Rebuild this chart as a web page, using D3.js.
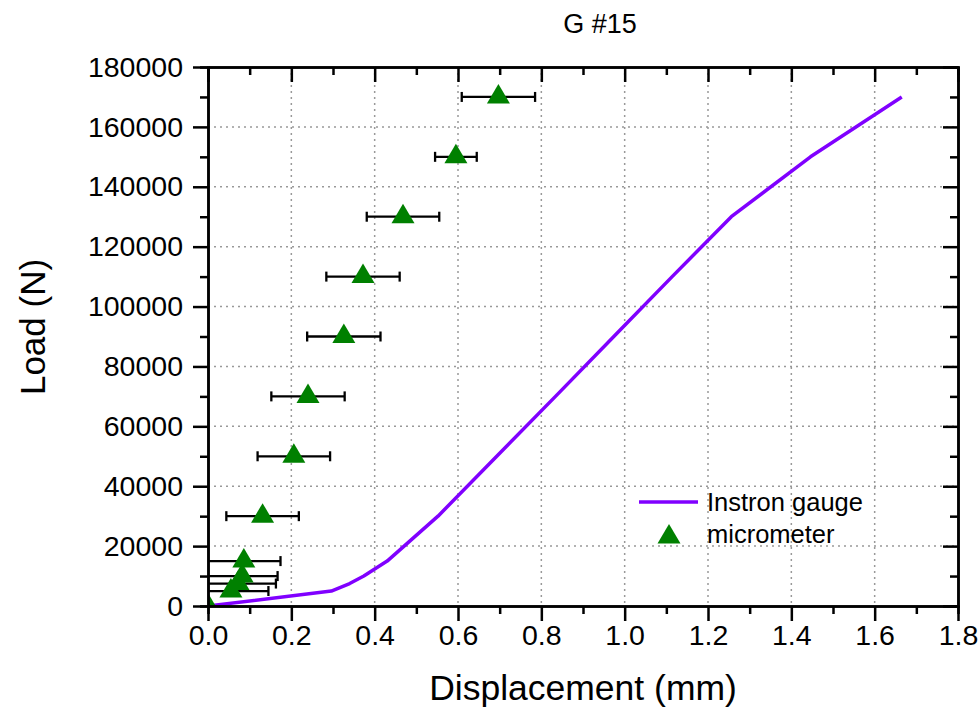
<!DOCTYPE html>
<html>
<head>
<meta charset="utf-8">
<script src="https://cdn.jsdelivr.net/npm/d3@7"></script>
<style>
	body { margin: 0; background: #fff; }
	text { font-family: "Liberation Sans", Arial, sans-serif; fill: #000; }
</style>
</head>
<body>
<div id="chart"></div>
<script>
// micrometer readings (load in N, displacement in mm, +/- error)
var microLoad = [0, 5000, 7500, 10000, 15000, 30000, 50000, 70000, 90000, 110000, 130000, 150000, 170000];
var microDisp = [0, 0.055, 0.072, 0.082, 0.086, 0.131, 0.206, 0.240, 0.326, 0.372, 0.468, 0.595, 0.697];
var microErr  = [0, 0.090, 0.091, 0.085, 0.088, 0.087, 0.087, 0.088, 0.088, 0.088, 0.087, 0.050, 0.088];

// Instron gauge curve
var gaugeLoad = [0, 5000, 7500, 10000, 15000, 30000, 50000, 70000, 90000, 110000, 130000, 150000, 170000];
var gaugeDisp = [0, 0.296, 0.340, 0.374, 0.430, 0.552, 0.693, 0.834, 0.974, 1.114, 1.256, 1.446, 1.665];

var xTicks = [0, 0.2, 0.4, 0.6, 0.8, 1.0, 1.2, 1.4, 1.6, 1.8];
var yTicks = [0, 20000, 40000, 60000, 80000, 100000, 120000, 140000, 160000, 180000];

var width = 980, height = 718;
var plotLeft = 208, plotRight = 958, plotTop = 67, plotBottom = 606;

var svg = d3.select("#chart").append("svg")
	.attr("width", width)
	.attr("height", height);

var x = d3.scaleLinear().domain([0, 1.8]).range([plotLeft, plotRight]);
var y = d3.scaleLinear().domain([0, 180000]).range([plotBottom, plotTop]);

svg.append("clipPath").attr("id", "plot-clip")
	.append("rect")
	.attr("x", plotLeft).attr("y", plotTop - 20)
	.attr("width", plotRight - plotLeft).attr("height", plotBottom - plotTop + 20);

// dotted grid
var grid = svg.append("g");
grid.selectAll(".gx")
	.data(xTicks.slice(1, -1))
	.enter().append("line")
	.attr("x1", function(d) { return x(d); })
	.attr("x2", function(d) { return x(d); })
	.attr("y1", plotTop).attr("y2", plotBottom);
grid.selectAll(".gy")
	.data(yTicks.slice(1, -1))
	.enter().append("line")
	.attr("y1", function(d) { return y(d); })
	.attr("y2", function(d) { return y(d); })
	.attr("x1", plotLeft).attr("x2", plotRight);
grid.selectAll("line")
	.style("stroke", "#999")
	.style("stroke-width", 1.5)
	.style("stroke-dasharray", "2,4");

var plot = svg.append("g").attr("clip-path", "url(#plot-clip)");

// gauge line
var gauge = gaugeDisp.map(function(d, i) { return [d, gaugeLoad[i]]; });
var line = d3.line()
	.x(function(d) { return x(d[0]); })
	.y(function(d) { return y(d[1]); });

plot.append("path")
	.datum(gauge)
	.attr("d", line)
	.style("fill", "none")
	.style("stroke", "#8000ff")
	.style("stroke-width", 3.5)
	.style("stroke-linejoin", "round");

// error bars
var micro = microDisp.map(function(d, i) {
	return { x: d, y: microLoad[i], e: microErr[i] };
});

var bars = plot.selectAll(".err")
	.data(micro.filter(function(d) { return d.e > 0; }))
	.enter().append("g")
	.style("stroke", "#000")
	.style("stroke-width", 2.3);

bars.append("line")
	.attr("x1", function(d) { return x(d.x - d.e); })
	.attr("x2", function(d) { return x(d.x + d.e); })
	.attr("y1", function(d) { return y(d.y); })
	.attr("y2", function(d) { return y(d.y); });
bars.append("line")
	.attr("x1", function(d) { return x(d.x - d.e); })
	.attr("x2", function(d) { return x(d.x - d.e); })
	.attr("y1", function(d) { return y(d.y) - 5; })
	.attr("y2", function(d) { return y(d.y) + 5; });
bars.append("line")
	.attr("x1", function(d) { return x(d.x + d.e); })
	.attr("x2", function(d) { return x(d.x + d.e); })
	.attr("y1", function(d) { return y(d.y) - 5; })
	.attr("y2", function(d) { return y(d.y) + 5; });

// up triangle centred on its centroid
function triangle(cx, cy) {
	return "M" + (cx - 11.5) + "," + (cy + 6.5) + "L" + (cx + 11.5) + "," + (cy + 6.5) + "L" + cx + "," + (cy - 13) + "Z";
}

plot.selectAll(".tri")
	.data(micro)
	.enter().append("path")
	.attr("d", function(d) { return triangle(x(d.x), y(d.y)); })
	.style("fill", "#008000");

// axes
var axisStyle = function(g) {
	g.select(".domain").style("stroke-width", 2.5);
	g.selectAll(".tick line").style("stroke-width", 2.5);
	g.selectAll("text").style("font-size", "28.5px").style("font-family", "'Liberation Sans', Arial, sans-serif");
};

var xMinor = d3.range(0.1, 1.8, 0.2);
var yMinor = d3.range(10000, 180000, 20000);

svg.append("g").attr("transform", "translate(0," + plotBottom + ")")
	.call(d3.axisBottom(x).tickValues(xMinor).tickSize(8).tickFormat(""))
	.call(axisStyle);
svg.append("g").attr("transform", "translate(0," + plotBottom + ")")
	.call(d3.axisBottom(x).tickValues(xTicks).tickSize(15).tickSizeOuter(0).tickPadding(4).tickFormat(d3.format(".1f")))
	.call(axisStyle);

svg.append("g").attr("transform", "translate(" + plotLeft + ",0)")
	.call(d3.axisLeft(y).tickValues(yMinor).tickSize(8).tickFormat(""))
	.call(axisStyle);
svg.append("g").attr("transform", "translate(" + plotLeft + ",0)")
	.call(d3.axisLeft(y).tickValues(yTicks).tickSize(15).tickSizeOuter(0).tickPadding(10).tickFormat(d3.format("d")))
	.call(axisStyle);

svg.append("g").attr("transform", "translate(0," + plotTop + ")")
	.call(d3.axisTop(x).tickValues(xMinor).tickSize(-8).tickFormat(""))
	.call(axisStyle);
svg.append("g").attr("transform", "translate(0," + plotTop + ")")
	.call(d3.axisTop(x).tickValues(xTicks).tickSize(-15).tickSizeOuter(0).tickFormat(""))
	.call(axisStyle);

svg.append("g").attr("transform", "translate(" + plotRight + ",0)")
	.call(d3.axisRight(y).tickValues(yMinor).tickSize(-8).tickFormat(""))
	.call(axisStyle);
svg.append("g").attr("transform", "translate(" + plotRight + ",0)")
	.call(d3.axisRight(y).tickValues(yTicks).tickSize(-15).tickSizeOuter(0).tickFormat(""))
	.call(axisStyle);

// titles
svg.append("text")
	.attr("x", 600).attr("y", 33)
	.attr("text-anchor", "middle")
	.style("font-size", "27px")
	.text("G #15");

svg.append("text")
	.attr("x", 583).attr("y", 700)
	.attr("text-anchor", "middle")
	.style("font-size", "35.5px")
	.text("Displacement (mm)");

svg.append("text")
	.attr("transform", "translate(45,327) rotate(-90)")
	.attr("text-anchor", "middle")
	.style("font-size", "35px")
	.text("Load (N)");

// legend
var legend = svg.append("g");
legend.append("line")
	.attr("x1", 639).attr("x2", 698)
	.attr("y1", 502).attr("y2", 502)
	.style("stroke", "#8000ff")
	.style("stroke-width", 3.5);
legend.append("path")
	.attr("d", triangle(669, 537))
	.style("fill", "#008000");
legend.append("text")
	.attr("x", 707).attr("y", 511)
	.style("font-size", "25.5px")
	.text("Instron gauge");
legend.append("text")
	.attr("x", 707).attr("y", 543)
	.style("font-size", "25.5px")
	.text("micrometer");
</script>
</body>
</html>
